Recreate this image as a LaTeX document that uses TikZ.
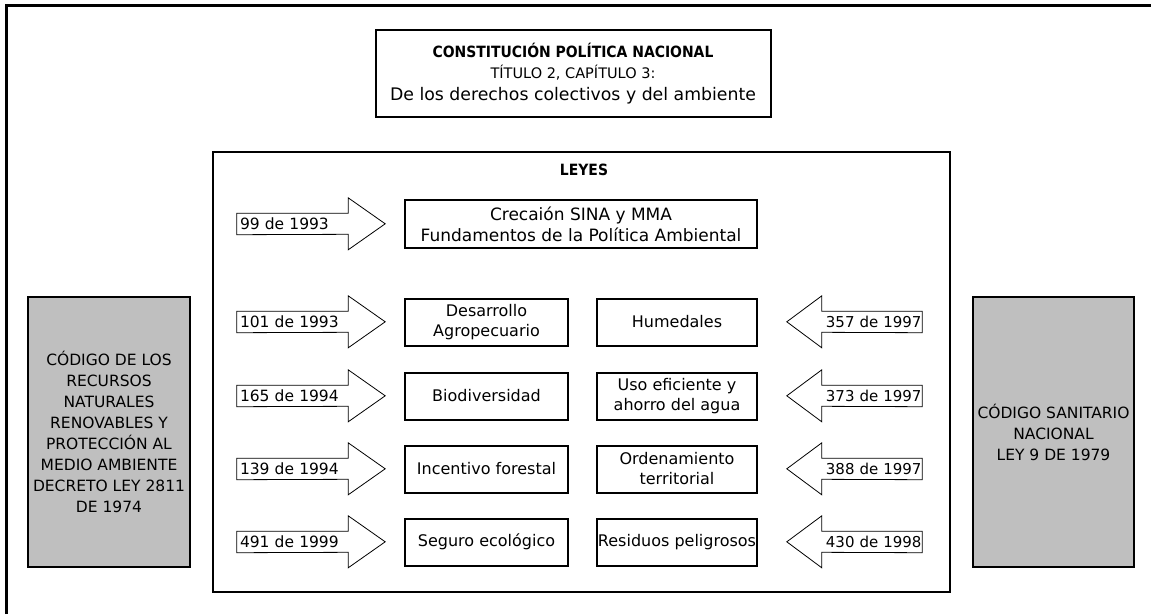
\documentclass[tikz,border=0pt]{standalone}
\usepackage{fontspec}
\setmainfont{DejaVu Sans}
\newfontfamily\condfont{DejaVu Sans Condensed}
\begin{document}
\begin{tikzpicture}[x=1pt,y=-1pt,
  box/.style={draw, line width=2pt, align=center, inner sep=1pt, font=\fontsize{16}{20}\selectfont},
  lbox/.style={box, minimum width=163pt, minimum height=47pt},
  rbox/.style={box, minimum width=160pt, minimum height=47pt},
  gbox/.style={draw, line width=2pt, fill=black!25, align=center, minimum width=162pt, minimum height=270pt, inner sep=0pt, font=\fontsize{15.5}{21}\selectfont},
  lbody/.style={inner xsep=3pt, inner ysep=5pt, text height=11pt, text depth=0pt, text width=105pt, align=left, font=\fontsize{15.5}{20}\selectfont},
  rbody/.style={lbody, inner xsep=0.5pt, text width=99pt, align=right, font=\fontsize{15}{20}\selectfont},
  arrline/.style={draw, line width=0.8pt, line join=miter}
]
\useasboundingbox (0,0) rectangle (1151,614);
% outer frame
\coordinate (fbl) at (6,614);
\coordinate (ftl) at (6,5);
\coordinate (ftr) at (1151,5);
\draw[line width=3pt] (fbl) -- (ftl) -- (ftr);

% constitution
\node[draw, line width=2pt, minimum width=395pt, minimum height=87pt, align=center, inner sep=0pt,
      font=\fontsize{15}{21.5}\selectfont] (cpn) at (573,73.5)
  {{\condfont\bfseries\fontsize{15.5}{21.5}\selectfont CONSTITUCIÓN POLÍTICA NACIONAL}\\
   {\fontsize{14.5}{21.5}\selectfont TÍTULO 2, CAPÍTULO 3:}\\
   {\fontsize{17.3}{21.5}\selectfont De los derechos colectivos y del ambiente}};

% leyes frame
\node[draw, line width=2pt, minimum width=737pt, minimum height=440pt] (leyes) at (581.5,372) {};
\node[font=\condfont\bfseries\fontsize{15.5}{20}\selectfont] (leyestit) at (584,170) {LEYES};

% row 1 box
\node[box, minimum width=352pt, minimum height=48pt, font=\fontsize{17}{21}\selectfont] (sina) at (581,224)
  {Crecaión SINA y MMA\\Fundamentos de la Política Ambiental};

% left column boxes
\node[lbox] (desa) at (486.5,322) {Desarrollo\\Agropecuario};
\node[lbox] (biod) at (486.5,396) {Biodiversidad};
\node[lbox] (ince) at (486.5,469) {Incentivo forestal};
\node[lbox] (segu) at (486.5,542) {Seguro ecológico};

% right column boxes
\node[rbox] (hume) at (677,322) {Humedales};
\node[rbox] (agua) at (677,396) {Uso eficiente y\\ahorro del agua};
\node[rbox] (orde) at (677,469) {Ordenamiento\\territorial};
\node[rbox] (resi) at (677,542) {Residuos peligrosos};

% left block arrows
\foreach \n/\y/\t in {a99/224/99 de 1993, a101/322/101 de 1993, a165/396/165 de 1994, a139/469/139 de 1994, a491/542/491 de 1999}{
  \node[lbody] (\n) at (292.5,\y) {\t};
  \draw[arrline] (\n.north west) -- (\n.north east) -- ++(0,-15.5) -- ++(37,26) -- ++(-37,26) -- ++(0,-15.5) -- (\n.south west) -- cycle;
}

% right block arrows
\foreach \n/\y/\t in {a357/322/357 de 1997, a373/396/373 de 1997, a388/469/388 de 1997, a430/542/430 de 1998}{
  \node[rbody] (\n) at (872,\y) {\t};
  \draw[arrline] (\n.north east) -- (\n.north west) -- ++(0,-15.5) -- ++(-35,26) -- ++(35,26) -- ++(0,-15.5) -- (\n.south east) -- cycle;
}

% gray boxes
\node[gbox] (crn) at (109,432) {CÓDIGO DE LOS\\RECURSOS\\NATURALES\\RENOVABLES Y\\PROTECCIÓN AL\\MEDIO AMBIENTE\\DECRETO LEY 2811\\DE 1974};
\node[gbox, minimum width=161pt] (csn) at (1053.5,432) {CÓDIGO SANITARIO\\NACIONAL\\LEY 9 DE 1979};
\end{tikzpicture}
\end{document}
